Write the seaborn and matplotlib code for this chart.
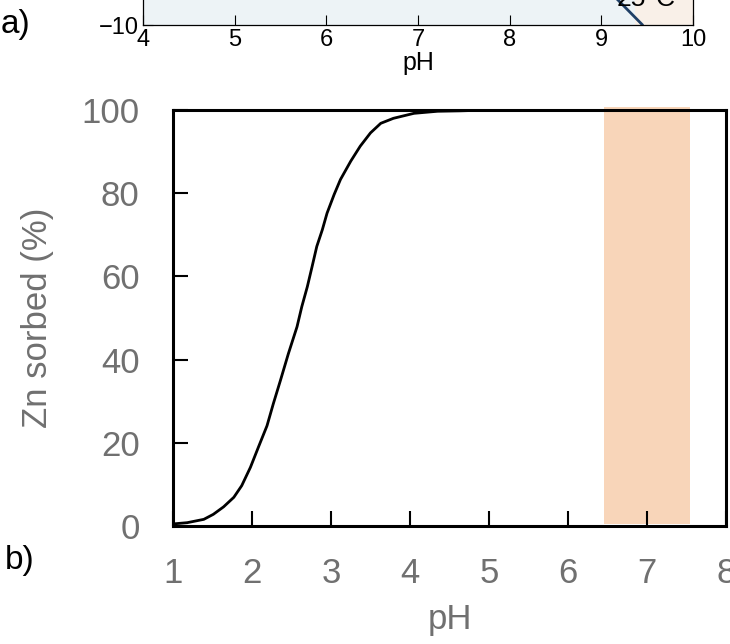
import matplotlib
matplotlib.use("Agg")
import matplotlib.pyplot as plt
import seaborn as sns
import pandas as pd

# ---- data ----
ph_values = [1.0, 1.18, 1.39, 1.51, 1.64, 1.77, 1.87, 1.98, 2.08, 2.19, 2.27,
             2.36, 2.46, 2.57, 2.63, 2.70, 2.76, 2.82, 2.89, 2.95, 3.04, 3.12,
             3.25, 3.37, 3.50, 3.63, 3.79, 4.05, 4.35, 4.64, 5.0, 6.0, 7.0, 8.0]
zn_sorbed = [0.5, 0.8, 1.6, 2.8, 4.6, 6.9, 9.7, 14.1, 18.9, 24.1, 29.4,
             35.0, 41.4, 47.9, 52.7, 57.5, 62.3, 67.2, 71.2, 75.2, 79.7, 83.3,
             87.7, 91.3, 94.5, 96.8, 98.0, 99.2, 99.7, 99.8, 100, 100, 100, 100]
band_ph = [6.45, 7.55]
x_ticks_b = [1, 2, 3, 4, 5, 6, 7, 8]
y_ticks_b = [0, 20, 40, 60, 80, 100]

x_ticks_a = [4, 5, 6, 7, 8, 9, 10]
boundary_ph = [9.45, 9.02]
boundary_e = [-10, -6]
field_split = 9.37

sns.set_theme(style="ticks")
plt.rcParams["font.family"] = ["Liberation Sans", "DejaVu Sans"]
plt.rcParams["text.color"] = "black"

W, H = 730, 644
fig = plt.figure(figsize=(W / 100, H / 100), dpi=100)

# ---- top (cropped) panel a ----
axa = fig.add_axes([143 / W, (H - 25) / H, 550 / W, 200 / H])
axa.set_xlim(4, 10)
axa.set_ylim(-10, 10)
axa.axvspan(4, field_split, color="#EDF3F6", zorder=0, lw=0)
axa.axvspan(field_split, 10, color="#F9F0E8", zorder=0, lw=0)
sns.lineplot(x=boundary_ph, y=boundary_e, ax=axa, color="#1F3F66", lw=2, sort=False)
axa.set_axisbelow(False)
axa.set_xticks(x_ticks_a)
axa.set_xticklabels([str(t) for t in x_ticks_a])
axa.set_yticks([-10])
axa.set_yticklabels(["\u221210"])
axa.tick_params(direction="in", length=7, width=0.8, labelsize=17, colors="black", pad=3)
for s in axa.spines.values():
    s.set_linewidth(0.9)
    s.set_color("black")
axa.set_xlabel("pH", fontsize=18, labelpad=0, color="black")
axa.set_ylabel("")
fig.text(646 / W, 1 + 1 / H, "25\u00b0C", fontsize=19, ha="center", va="center",
         color="black")
fig.text(16 / W, 1 - 24 / H, "a)", fontsize=24, ha="center", va="center",
         color="black")

# ---- bottom panel b ----
axb = fig.add_axes([173 / W, (H - 526) / H, 553 / W, 416 / H])
df = pd.DataFrame({"pH": ph_values, "Zn": zn_sorbed})
axb.axvspan(band_ph[0], band_ph[1], ymin=0.004, ymax=1.008, color="#F8D5B9",
            lw=0, zorder=1, clip_on=False)
sns.lineplot(data=df, x="pH", y="Zn", ax=axb, color="black", lw=2, zorder=3)
axb.set_axisbelow(False)
axb.set_xlim(1, 8)
axb.set_ylim(0, 100)
axb.set_xticks(x_ticks_b)
axb.set_yticks(y_ticks_b)
axb.tick_params(direction="in", length=11, width=1.5, labelsize=25,
                labelcolor="#707070", color="black", pad=22)
axb.tick_params(axis="y", pad=24)
for s in axb.spines.values():
    s.set_linewidth(2.2)
    s.set_color("black")
    s.set_zorder(4)
axb.set_xlabel("pH", fontsize=25, color="#707070", labelpad=10)
axb.set_ylabel("Zn sorbed (%)", fontsize=25, color="#707070", labelpad=20)
fig.text(20 / W, 1 - 560 / H, "b)", fontsize=24, ha="center", va="center",
         color="black")

fig.savefig("out.png", dpi=100)
